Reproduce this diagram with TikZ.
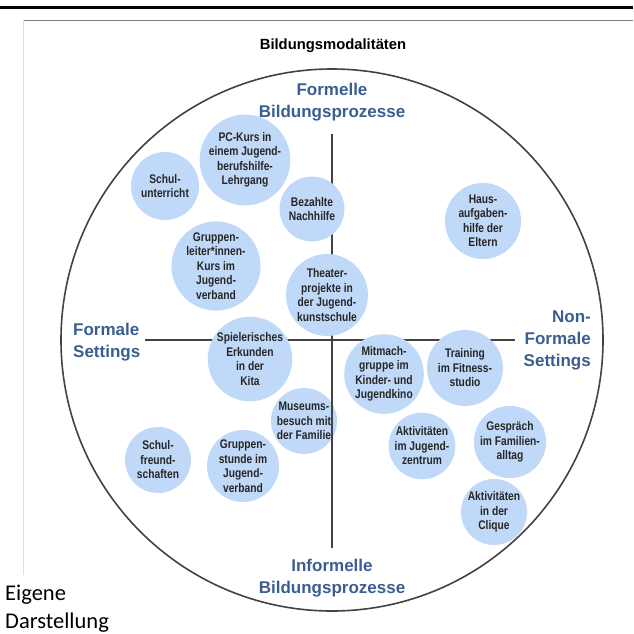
\documentclass[tikz,border=0pt]{standalone}
\usepackage{fontspec}
\setmainfont{Liberation Sans}
\newfontfamily\bubblefont[FakeStretch=0.82]{Liberation Sans}
\newfontfamily\notefont{Carlito}
\usetikzlibrary{positioning}
\definecolor{bubbleblue}{RGB}{193,217,248}
\definecolor{headblue}{RGB}{59,94,145}
\definecolor{textgray}{RGB}{38,38,38}
\definecolor{linegray}{RGB}{66,66,66}

\tikzset{
  bubble/.style={circle, fill=bubbleblue, inner sep=0pt, text=textgray, align=center,
    font=\bubblefont\bfseries\fontsize{12.5}{14.5}\selectfont},
  head/.style={text=headblue, inner sep=0pt, font=\bfseries\fontsize{17}{22}\selectfont},
  axis/.style={draw=linegray, line width=2pt}
}

\begin{document}
\begin{tikzpicture}[x=1pt, y=-1pt]
    \useasboundingbox (0,0) rectangle (633,634);

    % Cornice della pagina
    \draw[line width=3pt] (0,8) -- (633,8);
    \draw[gray, line width=1.5pt] (23,20.5) -- (633,20.5);
    \draw[black!12, line width=1pt] (23,20.5) -- (23,575);

    % Titolo
    \node[font=\bfseries\fontsize{14.8}{17}\selectfont] (titel) at (333,46) {Bildungsmodalitäten};

    % Cerchio esterno
    \node[draw=linegray, line width=1.6pt, circle, minimum size=542pt, inner sep=0pt] (rahmen) at (332,340) {};

    % Bolla sotto l'asse verticale
    \node[bubble, minimum size=66pt] (museum) at (304,421) {Museums-\\besuch mit\\der Familie};

    % Assi
    \coordinate (oben) at (332,134);
    \coordinate (unten) at (332,548);
    \coordinate (links) at (145,340);
    \coordinate (rechts) at (515,340);
    \draw[axis] (oben) -- (unten);
    \draw[axis] (links) -- (rechts);

    % Etichette degli assi
    \node[head, align=center] (formell) at (332,102) {Formelle\\Bildungsprozesse};
    \node[head, align=center] (informell) at (332,578) {Informelle\\Bildungsprozesse};
    \node[head, align=left, anchor=west] (formal) at (73,342.5) {Formale\\Settings};
    \node[head, align=right, anchor=east] (nonformal) at (591,340) {Non-\\Formale\\Settings};

    % Bolle: quadrante formale / formell
    \node[bubble, minimum size=68pt] (schule) at (165,186) {Schul-\\unterricht};
    \node[bubble, minimum size=80pt] (pckurs) at (245,160) {PC-Kurs in\\einem Jugend-\\berufshilfe-\\Lehrgang};
    \node[bubble, minimum size=65pt] (nachhilfe) at (312,209) {Bezahlte\\Nachhilfe};
    \node[bubble, minimum size=88pt] (leiter) at (216,266) {Gruppen-\\leiter*innen-\\Kurs im\\Jugend-\\verband};
    \node[bubble, minimum size=82pt] (theater) at (327,295) {Theater-\\projekte in\\der Jugend-\\kunstschule};
    \node[bubble, minimum size=82pt] (kita) at (250,359) {Spielerisches\\Erkunden\\in der\\Kita};

    % Bolle: quadrante non formale / formell
    \node[bubble, minimum size=76pt] (hausaufgaben) at (483,221) {Haus-\\aufgaben-\\hilfe der\\Eltern};

    % Bolle: quadrante formale / informell
    \node[bubble, minimum size=66pt] (freunde) at (158,460) {Schul-\\freund-\\schaften};
    \node[bubble, minimum size=72pt] (gruppenstunde) at (243,466) {Gruppen-\\stunde im\\Jugend-\\verband};

    % Bolle: quadrante non formale / informell
    \node[bubble, minimum size=74pt] (kino) at (384,374) {Mitmach-\\gruppe im\\Kinder- und\\Jugendkino};
    \node[bubble, minimum size=76pt] (fitness) at (465,368) {Training\\im Fitness-\\studio};
    \node[bubble, minimum size=66pt] (jugendzentrum) at (422,446) {Aktivitäten\\im Jugend-\\zentrum};
    \node[bubble, minimum size=66pt] (familie) at (510,442) {Gespräch\\im Familien-\\alltag};
    \node[bubble, minimum size=66pt] (clique) at (494,512) {Aktivitäten\\in der\\Clique};

    % Fonte
    \node[font=\notefont\fontsize{22.5}{28}\selectfont, align=left, anchor=west, inner sep=0pt] (quelle) at (5,608.5) {Eigene\\Darstellung};
\end{tikzpicture}
\end{document}
